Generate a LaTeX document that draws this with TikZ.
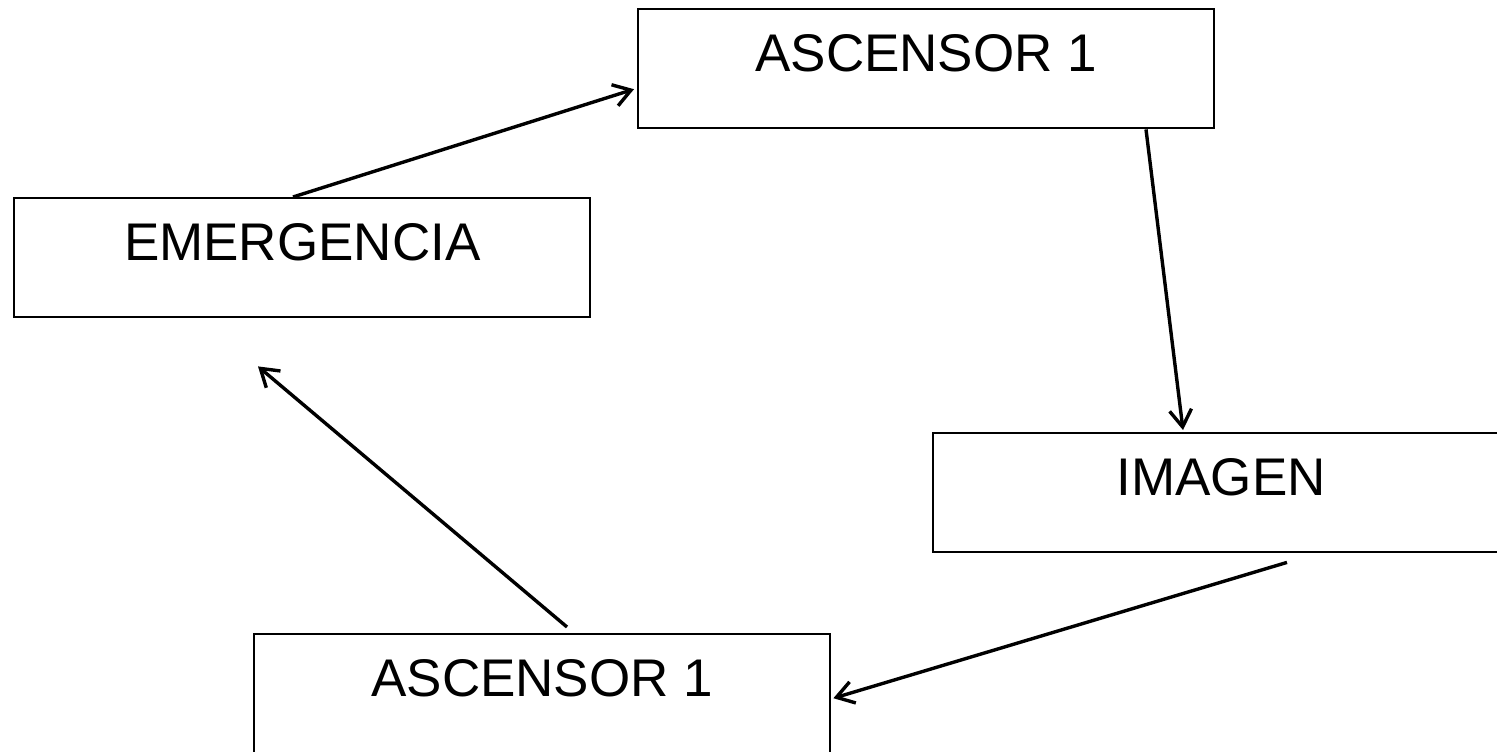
\documentclass[tikz,border=0pt]{standalone}
\usepackage{fontspec}
\setmainfont{Liberation Sans}
\usetikzlibrary{arrows.meta}
\begin{document}
\begin{tikzpicture}[x=1pt,y=-1pt,
  boxnode/.style={draw=black, line width=2.4pt, rectangle, anchor=north west,
    minimum width=576pt, inner sep=0pt, text height=62pt, text depth=57pt,
    font=\fontsize{53}{60}\selectfont},
  flow/.style={draw=black, line width=3.4pt,
    -{Straight Barb[length=17pt,width=22pt]}}]
  \useasboundingbox (0,0) rectangle (1497,752);
  \clip (0,0) rectangle (1497,752);

  % state boxes
  \node[boxnode] (asc1) at (637,8)   {ASCENSOR 1};
  \node[boxnode] (emer) at (13,197)  {EMERGENCIA};
  \node[boxnode] (img)  at (932,432) {IMAGEN};
  \node[boxnode] (asc2) at (253,633) {ASCENSOR 1};

  % free end of the last transition
  \coordinate (emerBelow) at ([xshift=245pt,yshift=-48pt]emer.south west);

  % transitions
  \draw[flow] ([xshift=280pt]emer.north west) -- ([yshift=-20.5pt,xshift=-3pt]asc1.west);
  \draw[flow] ([xshift=509pt]asc1.south west) -- ([xshift=251pt,yshift=2pt]img.north west);
  \draw[flow] ([xshift=355pt,yshift=-9pt]img.south west) -- ([xshift=2pt,yshift=-4.5pt]asc2.east);
  \draw[flow] ([xshift=314pt,yshift=6pt]asc2.north west) -- (emerBelow);
\end{tikzpicture}
\end{document}
